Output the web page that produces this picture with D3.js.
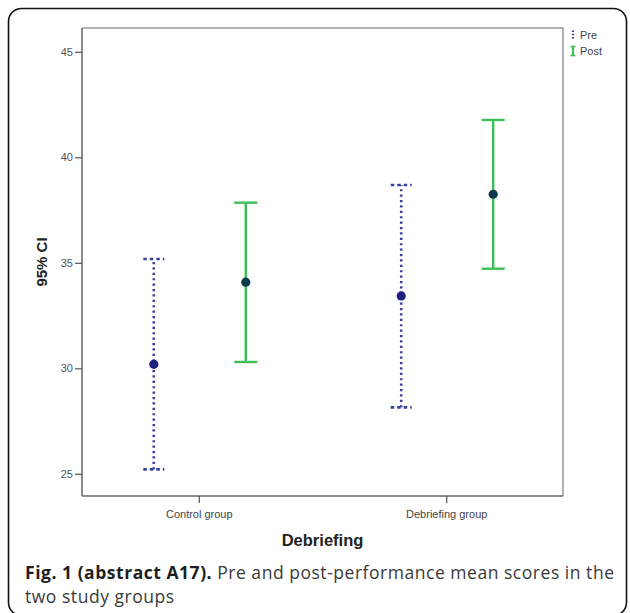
<!DOCTYPE html>
<html><head><meta charset="utf-8">
<script src="https://cdn.jsdelivr.net/npm/d3@7"></script>
<style>html,body{margin:0;padding:0;background:#fff;}svg{display:block;}</style>
</head><body>
<svg id="chart" width="630" height="613"></svg>
<script>
const groups = ["Control group", "Debriefing group"];
const seriesNames = ["Pre", "Post"];
const preMean  = [30.19, 33.43];
const preLow   = [25.21, 28.15];
const preHigh  = [35.18, 38.69];
const postMean = [34.08, 38.25];
const postLow  = [30.30, 34.72];
const postHigh = [37.85, 41.77];
const yTicks = [25, 30, 35, 40, 45];
const xTitle = "Debriefing";
const yTitle = "95% CI";
const captionBold = "Fig. 1 (abstract A17).";
const captionRest = " Pre and post-performance mean scores in the";
const captionLine2 = "two study groups";

const svg = d3.select("#chart");
const frame = {left: 82, right: 563, top: 28, bottom: 496};

// outer rounded box
svg.append("rect").attr("x", 8.5).attr("y", 8.5).attr("width", 618).attr("height", 607)
  .attr("rx", 13).attr("fill", "none").attr("stroke", "#111").attr("stroke-width", 1.6);

const x = d3.scalePoint().domain(groups).range([frame.left, frame.right]).padding(0.472);
const xs = d3.scalePoint().domain(seriesNames).range([-45, 47]);
const y = d3.scaleLinear().domain([25, 45]).range([473.8, 51.8]);

// frame top/right
svg.append("path")
  .attr("d", `M${frame.left},${frame.top}H${frame.right}V${frame.bottom}`)
  .attr("fill", "none").attr("stroke", "#9a9a9a").attr("stroke-width", 1.5);

// y axis
const yAxis = svg.append("g").attr("transform", `translate(${frame.left},0)`)
  .call(d3.axisLeft(y).tickValues(yTicks).tickSize(7).tickPadding(2).tickSizeOuter(0));
yAxis.select(".domain").attr("d", `M0,${frame.top}V${frame.bottom}`).attr("stroke", "#666").attr("stroke-width", 1.5);
yAxis.selectAll(".tick line").attr("stroke", "#555").attr("stroke-width", 1.2);
yAxis.selectAll(".tick text").attr("font-family", "Liberation Sans, Arial, sans-serif")
  .attr("font-size", 11).attr("fill", "#555");

// x axis
const xAxis = svg.append("g").attr("transform", `translate(0,${frame.bottom})`)
  .call(d3.axisBottom(x).tickSize(7).tickPadding(7).tickSizeOuter(0));
xAxis.select(".domain").attr("d", `M${frame.left},0H${frame.right}`).attr("stroke", "#666").attr("stroke-width", 1.5);
xAxis.selectAll(".tick line").attr("stroke", "#555").attr("stroke-width", 1.2);
xAxis.selectAll(".tick text").attr("font-family", "Liberation Sans, Arial, sans-serif")
  .attr("font-size", 11).attr("fill", "#444");

// titles
svg.append("text").attr("x", (frame.left + frame.right) / 2).attr("y", 546)
  .attr("text-anchor", "middle").attr("font-family", "Liberation Sans, Arial, sans-serif")
  .attr("font-weight", "bold").attr("font-size", 16.5).attr("fill", "#222").text(xTitle);
svg.append("text").attr("transform", `translate(47,${(frame.top + frame.bottom) / 2}) rotate(-90)`)
  .attr("text-anchor", "middle").attr("font-family", "Liberation Sans, Arial, sans-serif")
  .attr("font-weight", "bold").attr("font-size", 15).attr("fill", "#222").text(yTitle);

// data
const series = [
  {name: "Pre", mean: preMean, low: preLow, high: preHigh, color: "#3b3fa3", dot: "#1d2180", dash: "2.2,3.2", capDash: "3.5,3", capW: 21, width: 2.6},
  {name: "Post", mean: postMean, low: postLow, high: postHigh, color: "#3dbf58", dot: "#0d3a4a", dash: null, capDash: null, capW: 23, width: 2.4}
];

series.forEach(s => {
  const g = svg.append("g");
  groups.forEach((grp, i) => {
    const cx = x(grp) + xs(s.name);
    g.append("line").attr("x1", cx).attr("x2", cx).attr("y1", y(s.low[i])).attr("y2", y(s.high[i]))
      .attr("stroke", s.color).attr("stroke-width", s.width).attr("stroke-dasharray", s.dash);
    [s.low[i], s.high[i]].forEach(v => {
      g.append("line").attr("x1", cx - s.capW / 2).attr("x2", cx + s.capW / 2)
        .attr("y1", y(v)).attr("y2", y(v))
        .attr("stroke", s.color).attr("stroke-width", s.width).attr("stroke-dasharray", s.capDash);
    });
    g.append("circle").attr("cx", cx).attr("cy", y(s.mean[i])).attr("r", 4.6).attr("fill", s.dot);
  });
});

// legend
const leg = svg.append("g");
series.forEach((s, i) => {
  const cy = 35 + i * 16;
  const lx = 573;
  leg.append("line").attr("x1", lx).attr("x2", lx).attr("y1", cy - 4.5).attr("y2", cy + 4.5)
    .attr("stroke", s.color).attr("stroke-width", 2.2).attr("stroke-dasharray", s.dash ? "1.6,1.6" : null);
  if (!s.dash) {
    [cy - 4.5, cy + 4.5].forEach(yy => leg.append("line").attr("x1", lx - 2.5).attr("x2", lx + 2.5)
      .attr("y1", yy).attr("y2", yy).attr("stroke", s.color).attr("stroke-width", 1.6));
  }
  leg.append("text").attr("x", 580).attr("y", cy + 4).attr("font-family", "Liberation Sans, Arial, sans-serif")
    .attr("font-size", 11).attr("fill", "#444").text(s.name);
});

// caption
const cap = svg.append("text").attr("x", 25).attr("y", 579)
  .attr("font-family", "Open Sans, sans-serif").attr("font-size", 17.5)
  .attr("letter-spacing", 0.53).attr("fill", "#3a3a3a");
cap.append("tspan").attr("font-weight", "bold").attr("fill", "#1e1e1e").text(captionBold);
cap.append("tspan").text(captionRest);
svg.append("text").attr("x", 25).attr("y", 603)
  .attr("font-family", "Open Sans, sans-serif").attr("font-size", 17.5)
  .attr("letter-spacing", 0.53).attr("fill", "#3a3a3a").text(captionLine2);
</script>
</body></html>
